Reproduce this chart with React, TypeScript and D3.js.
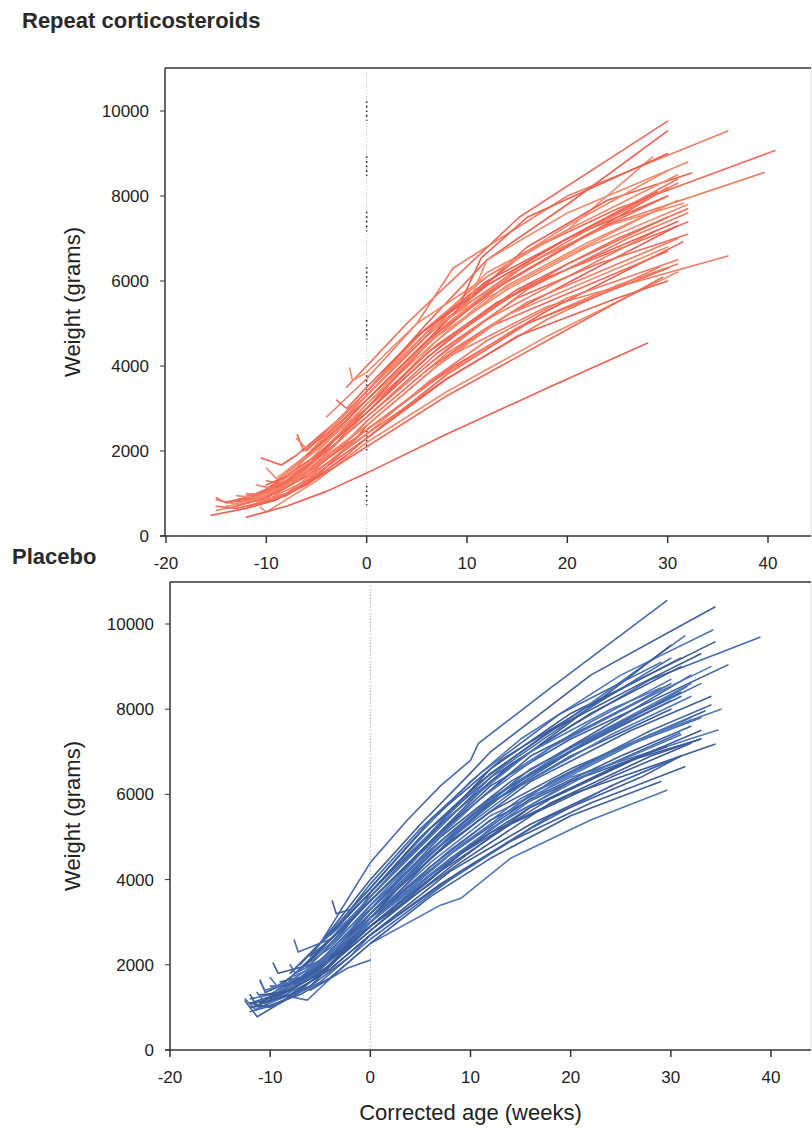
import React from "react";
import * as d3 from "d3";

type Pt = [number, number];

// x ticks (weeks), y ticks (grams)
const xTicks = [-20, -10, 0, 10, 20, 30, 40];
const yTicks = [0, 2000, 4000, 6000, 8000, 10000];

// dark dot groups on reference line of top panel (grams)
const refDotGroups = [10000, 8700, 7400, 6100, 4850, 3550, 2250, 950];

// Repeat corticosteroids trajectories [weeks, grams]
const steroidSeries: Pt[][] = [
  [[-2, 3500], [0, 4000], [4, 5000], [8, 5900], [15.2, 7500], [30, 9760]],
  [[-4, 2800], [0, 3700], [5, 5000], [8.6, 6300], [20, 8000], [36, 9530]],
  [[-6, 2000], [0, 3400], [6, 5000], [12, 6500], [20, 7800], [30, 9530]],
  [[-8, 1500], [-4, 2300], [0, 3300], [6, 4800], [12, 6200], [20, 7200], [28.5, 8920]],
  [[-5, 2300], [0, 3300], [8, 5200], [16, 6700], [25, 7700], [40.7, 9070]],
  [[-7, 1700], [0, 3000], [8, 5000], [16, 6400], [25, 7400], [39.6, 8550]],
  [[-10, 1100], [-5, 1900], [0, 3000], [8, 5100], [16, 6800], [24, 7900], [32.4, 8540]],
  [[-9, 1300], [-4, 2200], [0, 3100], [7, 4800], [15, 6300], [24, 7300], [31.6, 7830]],
  [[-12, 900], [-8, 1300], [-3, 2300], [0, 2900], [8, 4600], [16, 5900], [32, 7390]],
  [[-11, 950], [-6, 1500], [0, 2600], [8, 4200], [18, 5400], [36, 6590]],
  [[-13, 800], [-9, 1000], [-4, 1800], [0, 2500], [8, 3900], [18, 5300], [31.5, 6920]],
  [[-10.6, 680], [-10, 560], [-5, 1300], [0, 2200], [8, 3400], [18, 4700], [31, 6210]],
  [[-12, 700], [-8, 950], [-4, 1500], [0, 2100], [8, 3300], [18, 4600], [29.5, 6090]],
  [[-9, 1000], [-4, 1700], [0, 2400], [8, 3700], [18, 5100], [29.2, 6330]],
  [[-12, 440], [-8, 700], [-4, 1050], [0, 1480], [8, 2400], [18, 3480], [28, 4540]],
  [[-15, 850], [-13, 750], [-10, 950], [-6, 1600], [-2, 2600], [0, 3100], [6, 4400], [12, 5600], [20, 6600], [30, 7800]],
  [[-15, 900], [-14, 780], [-11, 900], [-7, 1400], [-3, 2300], [0, 2900], [6, 4200], [12, 5300], [20, 6400], [30, 7500]],
  [[-15, 600], [-13, 700], [-10, 900], [-6, 1500], [-2, 2400], [0, 2800], [6, 4000], [12, 5100], [20, 6100], [29, 7200]],
  [[-15.5, 490], [-12, 650], [-9, 850], [-5, 1400], [-1, 2300], [0, 2600], [7, 4000], [14, 5200], [22, 6200], [31, 7300]],
  [[-14, 700], [-12, 780], [-9, 1000], [-5, 1700], [0, 2900], [7, 4600], [14, 5900], [22, 6900], [31, 7900]],
  [[-13, 850], [-10, 1000], [-7, 1400], [-3, 2200], [0, 3000], [6, 4500], [12, 5700], [20, 6800], [30, 8200]],
  [[-12, 950], [-10, 1050], [-7, 1600], [-3, 2600], [0, 3300], [6, 4700], [12, 5900], [20, 7000], [31, 8400]],
  [[-10.5, 1835], [-8.5, 1670], [-7, 1900], [-3, 2700], [0, 3400], [5, 4700], [12, 6000], [20, 7000], [30, 8000]],
  [[-10, 1600], [-9, 1350], [-6, 1900], [-2, 2900], [0, 3400], [6, 4900], [12, 6100], [20, 7200], [31, 8500]],
  [[-6.9, 2380], [-6.3, 2000], [-4, 2400], [0, 3200], [6, 4600], [14, 6000], [22, 7100], [30, 8000]],
  [[-7, 2300], [-6, 2050], [-3, 2700], [0, 3400], [6, 4800], [14, 6100], [22, 7200], [31, 8300]],
  [[-3, 3200], [-2, 3000], [0, 3500], [5, 4700], [12, 5900], [20, 7000], [29, 8100]],
  [[-1.7, 3950], [-1.4, 3650], [0, 3850], [5, 5000], [12, 6100], [20, 7300], [30, 8600]],
  [[-13, 700], [-10, 900], [-6, 1400], [-2, 2200], [0, 2700], [6, 3900], [12, 4900], [20, 5700], [30, 6700]],
  [[-11, 800], [-8, 1000], [-4, 1700], [0, 2400], [6, 3600], [12, 4600], [20, 5600], [31, 6500]],
  [[-10, 1200], [-7, 1500], [-3, 2300], [0, 2900], [6, 4300], [13, 5500], [22, 6500], [31, 7400]],
  [[-9, 1200], [-6, 1700], [-2, 2700], [0, 3200], [7, 4700], [14, 5800], [22, 6800], [32, 7800]],
  [[-14, 800], [-11, 950], [-8, 1300], [-4, 2000], [0, 2800], [7, 4300], [15, 5600], [23, 6400], [32, 7100]],
  [[-12, 1000], [-10, 950], [-7, 1300], [-3, 2000], [0, 2700], [8, 4300], [16, 5500], [25, 6400], [31, 7000]],
  [[-6, 1900], [-3, 2500], [0, 3200], [9, 5300], [11.4, 6540], [16, 7500], [30, 9000]],
  [[-4, 2500], [0, 3300], [6, 4800], [10, 5400], [12, 6500], [20, 7600], [32, 8800]],
  [[-10, 1300], [-8, 1200], [-5, 1800], [-1, 2800], [0, 3000], [7, 4500], [15, 5800], [25, 7000], [32, 7700]],
  [[-12, 800], [-10, 850], [-6, 1300], [-2, 2100], [0, 2500], [7, 3700], [15, 4900], [25, 5900], [31, 6400]],
  [[-9, 900], [-6, 1200], [-2, 1900], [0, 2300], [8, 3700], [15, 4700], [25, 5600], [30, 6000]],
  [[-13, 950], [-11, 900], [-8, 1200], [-4, 1900], [0, 2600], [7, 4000], [14, 5200], [22, 6000], [30, 6800]],
  [[-15, 700], [-13, 650], [-10, 800], [-7, 1100], [-3, 1800], [0, 2300], [8, 3800], [16, 5000], [30, 6300]],
  [[-11, 1200], [-9, 1100], [-6, 1500], [-2, 2400], [0, 2800], [8, 4400], [16, 5800], [26, 7000], [32, 7600]],
];

// Placebo trajectories [weeks, grams]
const placeboSeries: Pt[][] = [
  [[-5, 2500], [0, 4400], [3.7, 5400], [7, 6200], [10, 6800], [10.8, 7200], [18, 8500], [29.6, 10550]],
  [[-6, 2200], [0, 4000], [5, 5300], [10, 6500], [12, 7000], [22, 8800], [34.4, 10400]],
  [[-7, 2000], [0, 3800], [5, 5100], [10, 6300], [15, 7300], [25, 8800], [34.2, 9860]],
  [[-8, 1800], [0, 3700], [6, 5100], [12, 6600], [20, 7900], [34.4, 9580]],
  [[-6, 2100], [0, 3600], [6, 5000], [12, 6400], [20, 7600], [28, 8700], [38.9, 9690]],
  [[-9, 1500], [-4, 2500], [0, 3500], [6, 4900], [12, 6200], [20, 7300], [35.7, 9040]],
  [[-8, 1700], [-3, 2800], [0, 3600], [6, 5100], [12, 6500], [20, 7800], [31.4, 9720]],
  [[-7, 1900], [0, 3500], [6, 4900], [12, 6300], [20, 7700], [30, 9500]],
  [[-10, 1300], [-5, 2100], [0, 3300], [6, 4700], [12, 5900], [20, 7000], [31.6, 8530]],
  [[-11, 1100], [-6, 1800], [0, 3200], [6, 4500], [12, 5600], [20, 6600], [33.4, 7960]],
  [[-10, 1200], [-5, 2000], [0, 3100], [6, 4400], [12, 5500], [20, 6400], [34.7, 7510]],
  [[-12, 1100], [-8, 1400], [-4, 2000], [0, 2900], [6, 4100], [12, 5100], [20, 6000], [34.4, 7180]],
  [[-11, 1000], [-6, 1600], [0, 2800], [6, 4000], [12, 5200], [20, 6300], [30.9, 7440]],
  [[-12, 1000], [-8, 1300], [-4, 1900], [0, 2700], [7, 3900], [14, 4900], [22, 5800], [31.4, 6650]],
  [[-9, 1300], [-6.3, 1170], [-3.8, 1720], [0, 2500], [7, 3400], [9.1, 3570], [14, 4500], [22, 5400], [29.6, 6100]],
  [[-10, 1200], [-5, 1900], [0, 3000], [6, 4300], [12, 5400], [20, 6300], [29.6, 7120]],
  [[-6, 1400], [-2.3, 1920], [0, 2110]],
  [[-12.5, 1150], [-11.3, 780], [-9, 1100], [-6, 1500], [-3, 2200], [0, 3000], [6, 4500], [12, 5800], [20, 7000], [30, 8200]],
  [[-12.5, 1200], [-11.5, 950], [-9, 1200], [-5, 1900], [-2, 2600], [0, 3100], [6, 4600], [12, 5900], [20, 7100], [32, 8600]],
  [[-12, 1100], [-10, 1000], [-7, 1400], [-4, 2000], [0, 3100], [6, 4600], [12, 5800], [20, 6900], [30, 8000]],
  [[-11.3, 1350], [-10.5, 1100], [-8, 1400], [-4, 2100], [0, 3200], [7, 4900], [14, 6200], [22, 7300], [31, 8300]],
  [[-11, 1640], [-10.5, 1350], [-7, 1700], [-3, 2500], [0, 3300], [7, 5000], [14, 6300], [22, 7400], [32, 8800]],
  [[-10, 1700], [-9, 1400], [-6, 1800], [-3, 2500], [0, 3400], [7, 5100], [14, 6500], [22, 7700], [30, 8700]],
  [[-9.7, 2040], [-9.2, 1800], [-6, 2000], [-3, 2700], [0, 3600], [7, 5300], [14, 6700], [22, 7900], [31, 9000]],
  [[-7.6, 2580], [-7.2, 2300], [-4, 2600], [-1, 3300], [0, 3700], [6, 5200], [13, 6600], [21, 7900], [30, 9200]],
  [[-3.8, 3500], [-3.4, 3200], [-2, 3300], [0, 3800], [6, 5400], [13, 6800], [22, 8100], [31, 9200]],
  [[-12, 1200], [-10, 1300], [-7, 1700], [-3, 2400], [0, 2900], [7, 4300], [14, 5500], [22, 6500], [31, 7400]],
  [[-11, 1300], [-9, 1300], [-6, 1700], [-2, 2500], [0, 2900], [7, 4200], [14, 5300], [24, 6400], [32, 7200]],
  [[-10, 1500], [-8, 1500], [-5, 1900], [-2, 2600], [0, 3100], [8, 4700], [15, 5900], [24, 7000], [33, 7800]],
  [[-9, 1600], [-7, 1700], [-4, 2200], [0, 3000], [8, 4600], [16, 5900], [25, 6900], [32, 7600]],
  [[-8, 1700], [-6, 1900], [-3, 2400], [0, 3200], [7, 4800], [15, 6200], [24, 7400], [32, 8300]],
  [[-8.5, 1500], [-6, 1800], [-3, 2300], [0, 3000], [8, 4500], [16, 5700], [24, 6600], [29, 7100]],
  [[-7, 1900], [-4, 2400], [0, 3400], [8, 5100], [16, 6600], [25, 7700], [31, 8400]],
  [[-6, 2200], [-3, 2800], [0, 3500], [8, 5300], [16, 6900], [26, 8100], [30, 8600]],
  [[-5, 2500], [-2, 3100], [0, 3600], [8, 5500], [16, 7000], [24, 8000], [29, 8500]],
  [[-11, 1100], [-8, 1300], [-4, 1900], [0, 2700], [8, 4200], [16, 5300], [25, 6300], [30, 6800]],
  [[-12, 900], [-9, 1100], [-5, 1600], [-1, 2400], [0, 2600], [8, 4000], [16, 5200], [24, 6200], [31, 6900]],
  [[-10.5, 1300], [-8, 1400], [-5, 1800], [-1, 2700], [0, 2900], [9, 4600], [18, 5900], [28, 7000], [33, 7500]],
  [[-9, 1400], [-6, 1700], [-2, 2500], [0, 3000], [8, 4500], [18, 6200], [28, 7400], [35, 8000]],
  [[-6, 1800], [-3, 2300], [0, 2900], [9, 4400], [18, 5800], [28, 6900], [33, 7300]],
  [[-7, 1700], [-4, 2200], [0, 3100], [9, 4800], [18, 6300], [28, 7500], [34, 8100]],
  [[-9, 1200], [-6, 1500], [-2, 2200], [0, 2700], [9, 4200], [18, 5500], [27, 6400], [31, 6900]],
  [[-5, 2300], [0, 3300], [5, 4600], [11, 5900], [18, 7100], [27, 8200], [34, 9000]],
  [[-4, 2700], [0, 3700], [5, 5000], [11, 6300], [18, 7500], [27, 8600], [33, 9300]],
  [[-3, 3000], [0, 3900], [5, 5200], [11, 6500], [19, 7900], [29, 9100]],
  [[-10, 1400], [-8, 1700], [-7.5, 1550], [-5, 1900], [-2, 2700], [0, 3200], [8, 4900], [16, 6300], [26, 7500], [34, 8300]],
  [[-11, 1600], [-10.5, 1400], [-8, 1600], [-4, 2300], [0, 3000], [8, 4600], [16, 6000], [26, 7200], [32, 7800]],
  [[-12, 1300], [-11.5, 1100], [-9, 1300], [-5, 1800], [0, 2800], [8, 4300], [16, 5700], [26, 6800], [33, 7300]],
  [[-8, 2000], [-7.5, 1800], [-5, 2100], [-2, 2800], [0, 3300], [8, 5000], [16, 6500], [26, 7800], [33, 8600]],
  [[-12, 1000], [-10, 1050], [-7, 1300], [-4, 1700], [0, 2500], [6, 3600], [12, 4500], [20, 5500], [29, 6300]],
];

const FONT = "Liberation Sans, Arial, Helvetica, sans-serif";

interface PanelProps {
  series: Pt[][];
  colors: string[];
  left: number;
  top: number;
  bottom: number;
  x0: number; // px of -20
  x40: number; // px of 40
  y10k: number; // px of 10000
  darkRef: boolean;
  title: string;
  titleX: number;
  titleY: number;
  showXLabel: boolean;
}

function Panel(p: PanelProps) {
  const x = d3.scaleLinear().domain([-20, 40]).range([p.x0, p.x40]);
  const y = d3.scaleLinear().domain([0, 10000]).range([p.bottom, p.y10k]);
  const line = d3
    .line<Pt>()
    .x((d) => x(d[0]))
    .y((d) => y(d[1]));
  const right = 811;
  const x0px = x(0);
  const midY = (p.top + p.bottom) / 2;
  return (
    <g>
      <text x={p.titleX} y={p.titleY} fontFamily={FONT} fontWeight="bold" fontSize={22} fill="#2a2a2a">
        {p.title}
      </text>
      {/* frame */}
      <line x1={right} x2={right} y1={p.top} y2={p.bottom} stroke="#ddd" strokeWidth={1} />
      {/* reference line at 0 */}
      <line x1={x0px} x2={x0px} y1={p.top + 4} y2={p.bottom} stroke="#bbb" strokeWidth={1} strokeDasharray="1,2" />
      {p.darkRef &&
        refDotGroups.map((g, i) => (
          <line
            key={"rd" + i}
            x1={x0px}
            x2={x0px}
            y1={y(g + 230)}
            y2={y(g - 230)}
            stroke="#333"
            strokeWidth={1.6}
            strokeDasharray="1.6,3"
          />
        ))}
      {/* trajectories */}
      {p.series.map((s, i) => (
        <path
          key={"s" + i}
          d={line(s) || ""}
          fill="none"
          stroke={p.colors[i % p.colors.length]}
          strokeWidth={1.6}
          strokeLinejoin="round"
          strokeLinecap="round"
        />
      ))}
      {!p.darkRef && (
        <line x1={x0px} x2={x0px} y1={p.top + 4} y2={p.bottom} stroke="#999" strokeWidth={1} strokeDasharray="1,3" opacity={0.6} />
      )}
      {/* axes */}
      <line x1={p.left} x2={right} y1={p.top} y2={p.top} stroke="#333" strokeWidth={1.5} />
      <line x1={p.left} x2={p.left} y1={p.top} y2={p.bottom} stroke="#333" strokeWidth={1.5} />
      <line x1={p.left - 5} x2={right} y1={p.bottom} y2={p.bottom} stroke="#333" strokeWidth={1.5} />
      {yTicks.map((t) => (
        <g key={"yt" + t}>
          <line x1={p.left - 5} x2={p.left} y1={y(t)} y2={y(t)} stroke="#333" strokeWidth={1} />
          <text
            x={p.left - 16}
            y={y(t)}
            dy="0.35em"
            textAnchor="end"
            fontFamily={FONT}
            fontSize={17}
            fill="#222"
          >
            {t}
          </text>
        </g>
      ))}
      {xTicks.map((t) => (
        <g key={"xt" + t}>
          <line x1={x(t)} x2={x(t)} y1={p.bottom} y2={p.bottom + 7} stroke="#333" strokeWidth={1.5} />
          <text x={x(t)} y={p.bottom + 33} textAnchor="middle" fontFamily={FONT} fontSize={17} fill="#222">
            {t}
          </text>
        </g>
      ))}
      <text
        transform={`translate(${80},${midY}) rotate(-90)`}
        textAnchor="middle"
        fontFamily={FONT}
        fontSize={22}
        fill="#222"
      >
        Weight (grams)
      </text>
      {p.showXLabel && (
        <text x={x(10)} y={p.bottom + 70} textAnchor="middle" fontFamily={FONT} fontSize={22} fill="#222">
          Corrected age (weeks)
        </text>
      )}
    </g>
  );
}

export default function App() {
  return (
    <svg
      width={812}
      height={1128}
      style={{ position: "absolute", left: 0, top: 0, background: "#fff" }}
    >
      <rect width={812} height={1128} fill="#fff" />
      <Panel
        series={steroidSeries}
        colors={["#f26a58", "#f47a62", "#ef5f50", "#f58a6c"]}
        left={165}
        top={68}
        bottom={536}
        x0={166}
        x40={768}
        y10k={111}
        darkRef={true}
        title="Repeat corticosteroids"
        titleX={22}
        titleY={28}
        showXLabel={false}
      />
      <Panel
        series={placeboSeries}
        colors={["#4369ae", "#3d5f9f", "#4d76bb", "#3a5a98"]}
        left={170}
        top={582}
        bottom={1050}
        x0={170}
        x40={771}
        y10k={624}
        darkRef={false}
        title="Placebo"
        titleX={12}
        titleY={564}
        showXLabel={true}
      />
    </svg>
  );
}
